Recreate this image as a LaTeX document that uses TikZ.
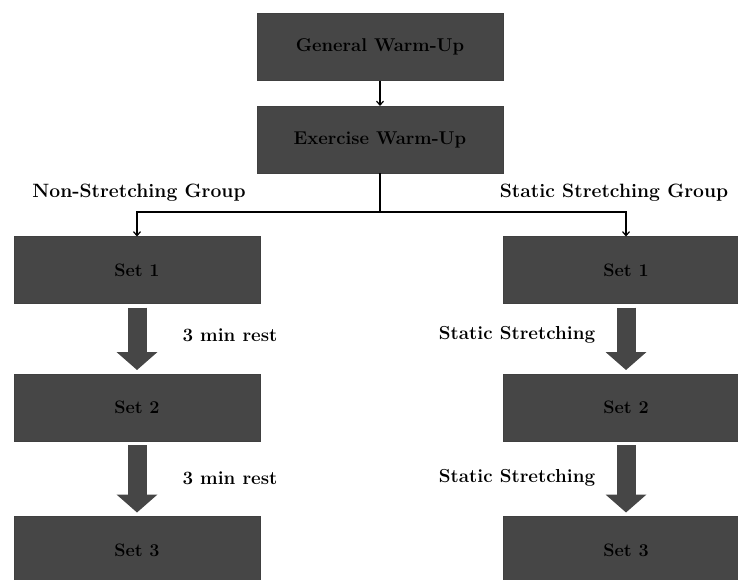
\documentclass[tikz,border=0pt]{standalone}
\usetikzlibrary{arrows.meta}
\definecolor{blockgray}{HTML}{464646}
\begin{document}
\begin{tikzpicture}[x=1pt,y=-1pt,inner sep=0pt,outer sep=0pt,line width=1.2pt,
>={Straight Barb[length=4pt,width=7pt]},
stageblock/.style={draw=black!75,line width=0.6pt,fill=blockgray,rectangle,minimum width=246pt,minimum height=67pt,font=\fontsize{18.5}{20}\selectfont\bfseries},
setblock/.style={stageblock,font=\fontsize{18}{20}\selectfont\bfseries},
grouplabel/.style={font=\fontsize{19.3}{21}\selectfont\bfseries},
restlabel/.style={font=\fontsize{18.8}{20}\selectfont\bfseries},
fatarrow/.style={blockgray,line width=19pt,-{Triangle[width=40pt,length=18pt]},shorten <=4pt,shorten >=4pt}]

\useasboundingbox (0,0) rectangle (738,579);

\draw (380,47) node[stageblock] (gen) {General Warm-Up};
\draw (380,139.5) node[stageblock] (ex) {Exercise Warm-Up};
\coordinate (split) at (380,212);

\draw (137,270) node[setblock] (l1) {Set 1};
\draw (137,407.5) node[setblock] (l2) {Set 2};
\draw (137,550) node[setblock] (l3) {Set 3};
\draw (626,270) node[setblock] (r1) {Set 1};
\draw (626,407.5) node[setblock] (r2) {Set 2};
\draw (626,550) node[setblock] (r3) {Set 3};

\draw (139,193) node[grouplabel] (nogrp) {Non-Stretching Group};
\draw (614,193) node[grouplabel] (ssgrp) {Static Stretching Group};
\draw (230,335) node[restlabel] (rest1) {3 min rest};
\draw (230,478) node[restlabel] (rest2) {3 min rest};
\draw (517,335) node[restlabel] (stat1) {Static Stretching};
\draw (517,478) node[restlabel] (stat2) {Static Stretching};

\draw[->] (gen) -- (ex);
\draw (ex) -- (split);
\draw[->] (split) -| (l1);
\draw[->] (split) -| (r1);

\draw[fatarrow] (l1) -- (l2);
\draw[fatarrow] (l2) -- (l3);
\draw[fatarrow] (r1) -- (r2);
\draw[fatarrow] (r2) -- (r3);

\end{tikzpicture}
\end{document}
